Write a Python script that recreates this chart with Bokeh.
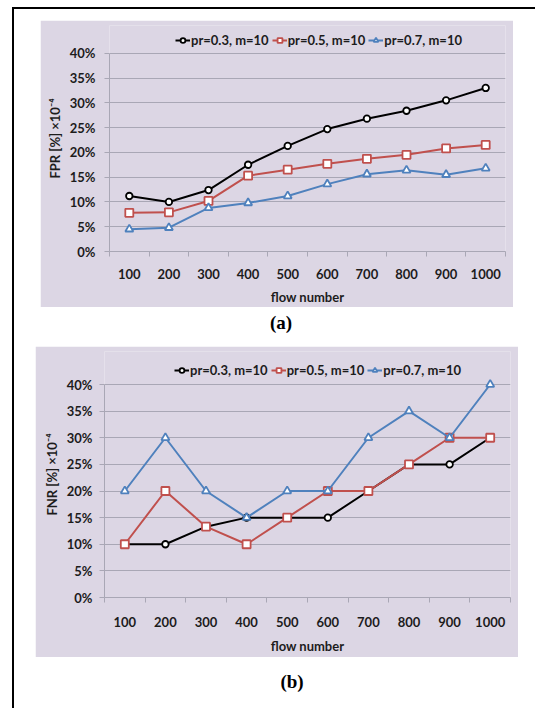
from bokeh.plotting import figure
from bokeh.models import (Range1d, FixedTicker, Legend, LegendItem, LinearAxis, Div)
from bokeh.layouts import column, row
from bokeh.embed import file_html
from bokeh.resources import INLINE

# ---- data -------------------------------------------------------------
flows = [100, 200, 300, 400, 500, 600, 700, 800, 900, 1000]
series_names = ["pr=0.3, m=10", "pr=0.5, m=10", "pr=0.7, m=10"]

# false positive rate  [%] x10^-4
fpr_03 = [11.2, 10.0, 12.4, 17.5, 21.3, 24.7, 26.8, 28.4, 30.5, 33.0]
fpr_05 = [7.8, 7.9, 10.2, 15.3, 16.5, 17.7, 18.7, 19.5, 20.8, 21.5]
fpr_07 = [4.5, 4.8, 8.8, 9.8, 11.2, 13.6, 15.6, 16.4, 15.5, 16.8]

# false negative rate  [%] x10^-4
fnr_03 = [10, 10, 13.3, 15, 15, 15, 20, 25, 25, 30]
fnr_05 = [10, 20, 13.3, 10, 15, 20, 20, 25, 30, 30]
fnr_07 = [20, 30, 20, 15, 20, 20, 30, 35, 30, 40]

y_ticks = [0, 5, 10, 15, 20, 25, 30, 35, 40]
y_tick_labels = ["0%", "5%", "10%", "15%", "20%", "25%", "30%", "35%", "40%"]

# ---- style ------------------------------------------------------------
PANEL = "#dcd6e4"
GRID = "#a9a7b5"
TXT = "#1c1c1c"
FONT = "Lato"
COLORS = ["#000000", "#c0504d", "#4f81bd"]
MARKERS = ["circle", "square", "triangle"]
MSIZES = [6.5, 8, 8]


def make_panel(values, ylabel, width, height, borders, plot_h, legend_xy,
               ylabel_span, tick_standoff, xlabel_standoff, ylab_standoff):
    """plot_h: pixel height of the 0..40 % band; the frame extends above it
    so the legend can sit over the top gridline."""
    left, right, top, bottom = borders
    frame_h = height - top - bottom
    y_top = y_ticks[-1] * frame_h / plot_h
    p = figure(width=width, height=height,
               x_range=Range1d(flows[0] - 50, flows[-1] + 50),
               y_range=Range1d(y_ticks[0], y_top),
               output_backend="svg", toolbar_location=None,
               min_border_left=left, min_border_right=right,
               min_border_top=top, min_border_bottom=bottom,
               background_fill_color=PANEL, border_fill_color=PANEL,
               outline_line_color=None, margin=0)

    items = []
    for vals, name, col, mk, ms in zip(values, series_names, COLORS, MARKERS, MSIZES):
        ln = p.line(flows, vals, line_color=col, line_width=2)
        sc = p.scatter(flows, vals, marker=mk, size=ms, line_color=col,
                       line_width=1.8, fill_color="white")
        items.append(LegendItem(label=name, renderers=[ln, sc]))

    # x axis: labels under each flow value, ticks on the category borders
    xa = p.xaxis[0]
    xa.ticker = FixedTicker(ticks=flows,
                            minor_ticks=[f - 50 for f in flows] + [flows[-1] + 50])
    xa.major_tick_line_color = None
    xa.major_tick_out = 0
    xa.minor_tick_line_color = GRID
    xa.minor_tick_out = 5
    xa.minor_tick_in = 0
    xa.axis_line_color = GRID
    xa.major_label_standoff = tick_standoff
    xa.major_label_text_font = FONT
    xa.major_label_text_font_style = "bold"
    xa.major_label_text_font_size = "13px"
    xa.major_label_text_color = TXT
    xa.axis_label = "flow number"
    xa.axis_label_text_font = FONT
    xa.axis_label_text_font_style = "bold"
    xa.axis_label_text_font_size = "13px"
    xa.axis_label_text_color = TXT
    xa.axis_label_standoff = xlabel_standoff

    ya = p.yaxis[0]
    ya.ticker = FixedTicker(ticks=y_ticks)
    ya.bounds = (y_ticks[0], y_ticks[-1])
    ya.major_label_overrides = dict(zip(y_ticks, y_tick_labels))
    ya.major_tick_line_color = GRID
    ya.major_tick_out = 5
    ya.major_tick_in = 0
    ya.minor_tick_line_color = None
    ya.axis_line_color = GRID
    ya.major_label_standoff = ylab_standoff
    ya.major_label_text_font = FONT
    ya.major_label_text_font_style = "bold"
    ya.major_label_text_font_size = "13px"
    ya.major_label_text_color = TXT

    # bare outer axis that only carries the rotated y title
    title_axis = LinearAxis(ticker=FixedTicker(ticks=[]), bounds=ylabel_span,
                            axis_line_color=None, major_tick_line_color=None,
                            minor_tick_line_color=None, major_tick_out=0,
                            minor_tick_out=0, axis_label=ylabel,
                            axis_label_standoff=4,
                            axis_label_text_font=FONT,
                            axis_label_text_font_style="bold",
                            axis_label_text_font_size="13px",
                            axis_label_text_color=TXT)
    p.add_layout(title_axis, "left")

    p.xgrid.visible = False
    p.ygrid.grid_line_color = GRID
    p.ygrid.grid_line_width = 1

    legend = Legend(items=items, orientation="horizontal", location=legend_xy,
                    background_fill_alpha=0, border_line_color=None,
                    label_text_font=FONT, label_text_font_style="bold",
                    label_text_font_size="13px", label_text_color=TXT,
                    glyph_width=15, glyph_height=12, label_standoff=1,
                    spacing=3, padding=0, margin=0, label_height=16)
    p.add_layout(legend)
    return p


fig_a = make_panel([fpr_03, fpr_05, fpr_07], "FPR [%] \u00d710\u207b\u2074",
                   473, 287, (69, 7, 5, 54), 200, (66, 203), (0, 45.2), 12, 7, 9)
fig_b = make_panel([fnr_03, fnr_05, fnr_07], "FNR [%] \u00d710\u207b\u2074",
                   483, 311, (69, 8, 5, 60), 213, (70, 219), (0, 44.7), 14, 8, 7)

CAP = {"text-align": "center", "font-family": "Liberation Serif",
       "font-weight": "bold", "font-size": "19px", "color": "#000"}

cap_a = Div(text="(a)", width=474, height=32, margin=(0, 0, 0, 30),
            styles=dict(CAP, **{"line-height": "32px"}))
cap_b = Div(text="(b)", width=474, height=50, margin=(0, 0, 0, 41),
            styles=dict(CAP, **{"line-height": "50px"}))

fig_a.margin = (11, 0, 0, 26)
fig_b.margin = (7, 0, 0, 21)

top_rule = Div(text="", width=523, height=2, margin=(7, 0, 0, 12),
               styles={"background-color": "#000"})
left_rule = Div(text="", width=2, height=699, margin=0,
                styles={"background-color": "#000"})

content = column(fig_a, cap_a, fig_b, cap_b, margin=0, spacing=0)
page = column(top_rule, row(left_rule, content, margin=(0, 0, 0, 12), spacing=0),
              margin=0, spacing=0)

open("out.html", "w").write(file_html(page, INLINE))
